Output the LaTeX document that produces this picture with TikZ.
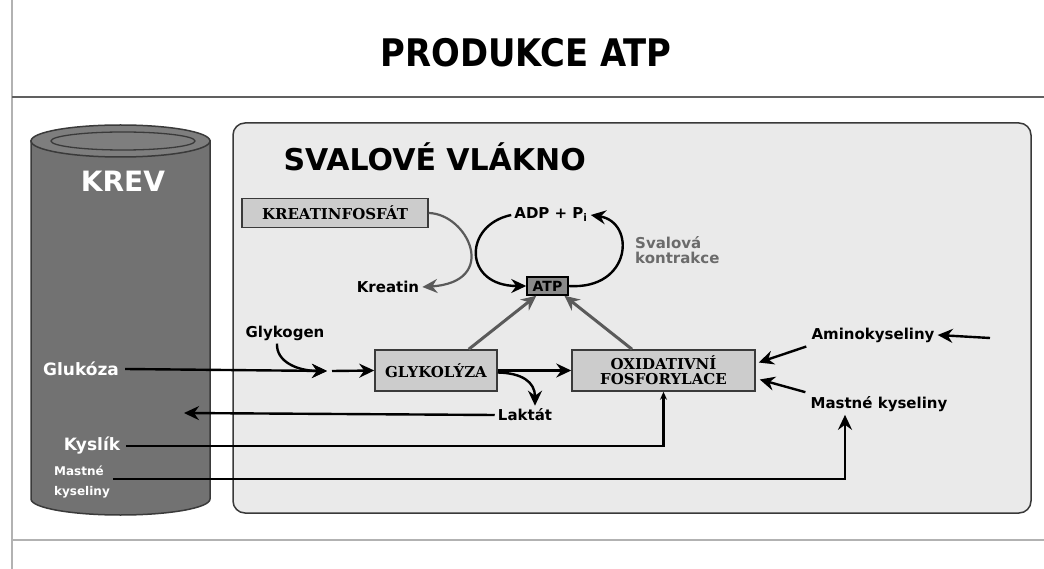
\documentclass[tikz,border=0pt]{standalone}
\usepackage{fontspec}
\usepackage{graphicx}
\setmainfont{DejaVu Sans}
\newfontfamily\slab{DejaVu Serif}
\usetikzlibrary{arrows.meta}
\definecolor{cylbody}{HTML}{727272}
\definecolor{cyltop}{HTML}{7E7E7E}
\definecolor{cylline}{HTML}{3A3A3A}
\definecolor{musclefill}{HTML}{EAEAEA}
\definecolor{boxfill}{HTML}{CCCCCC}
\definecolor{atpfill}{HTML}{8A8A8A}
\definecolor{arrgray}{HTML}{5A5A5A}
\definecolor{txtgray}{HTML}{6B6B6B}
\begin{document}
\begin{tikzpicture}[x=1pt,y=-1pt,
  lbl/.style={font=\fontsize{15}{18}\selectfont\bfseries, text=black, inner sep=3pt},
  wlbl/.style={font=\fontsize{17}{20}\selectfont\bfseries, text=white, inner sep=6pt},
  procbox/.style={draw=cylline, line width=1.5pt, fill=boxfill, font=\slab\bfseries\fontsize{15}{16}\selectfont, inner sep=0pt, align=center},
  arr/.style={line width=2.4pt, -{Stealth[length=15pt,width=14pt,inset=5pt]}},
  garr/.style={line width=3pt, draw=arrgray, -{Stealth[length=15pt,width=14pt,inset=5pt]}},
]
\useasboundingbox (0,0) rectangle (1044,569);
\fill[white] (0,0) rectangle (1044,569);
% page frame lines
\draw[gray!60, line width=1.2pt] (12,0) -- (12,569);
\draw[gray!75!black, line width=1.5pt] (12,97) -- (1044,97);
\draw[gray!60, line width=1.2pt] (12,540) -- (1044,540);
% title
\node[font=\fontsize{38}{40}\selectfont\bfseries] (title) at (526,53) {\scalebox{0.89}[1]{PRODUKCE ATP}};
% muscle fibre
\draw[fill=musclefill, draw=gray!45!black, line width=1.5pt, rounded corners=12pt] (233,123) rectangle (1031,513);
\node[anchor=west, font=\fontsize{30}{32}\selectfont\bfseries] (svtitle) at (280,157) {SVALOVÉ VLÁKNO};
% blood cylinder
\path[fill=cylbody, draw=cylline, line width=1.5pt] (31,141) -- (31,499) arc[start angle=180, end angle=0, x radius=89.5, y radius=16] -- (210,141) -- cycle;
\draw[fill=cyltop, draw=cylline, line width=1.5pt] (120.5,141) ellipse [x radius=89.5, y radius=16];
\draw[fill=cyltop, draw=cylline, line width=1.3pt] (123,141) ellipse [x radius=72, y radius=9];
\node[font=\fontsize{28}{30}\selectfont\bfseries, text=white] (krev) at (123,181) {KREV};
\node[wlbl] (glukoza) at (81,369) {Glukóza};
\node[wlbl] (kyslik) at (92,446) {Kyslík};
\node[font=\fontsize{12}{20}\selectfont\bfseries, text=white, align=left, inner sep=3pt] (mk) at (82,482) {Mastné\\kyseliny};
% boxes
\node[procbox, minimum width=186, minimum height=29] (kp) at (335,213) {KREATINFOSFÁT};
\node[procbox, minimum width=122, minimum height=41] (glyk) at (436,370.5) {GLYKOLÝZA};
\node[procbox, minimum width=183, minimum height=41] (oxid) at (663.5,370.5) {OXIDATIVNÍ\\[-1pt]FOSFORYLACE};
\node[draw=black, line width=1.5pt, fill=atpfill, minimum width=41, minimum height=18, inner sep=0pt, font=\fontsize{14}{16}\selectfont\bfseries] (atp) at (547.5,286) {ATP};
% labels
\node[lbl] (kreatin) at (388,287) {Kreatin};
\node[lbl] (adp) at (551,215) {ADP + P\textsubscript{i}};
\node[lbl, text=txtgray, align=left, anchor=west, font=\fontsize{15}{15}\selectfont\bfseries] (sval) at (632,250) {Svalová\\kontrakce};
\node[lbl] (glykogen) at (285,333) {Glykogen};
\node[lbl] (laktat) at (525,415) {Laktát};
\node[lbl] (amino) at (873,335) {Aminokyseliny};
\node[lbl] (mkr) at (879,404) {Mastné kyseliny};
% coordinates
\coordinate (merge) at (327,371);
\coordinate (lakend) at (184,413);
\coordinate (aminsrc) at (990,338);
% creatine phosphate curve
\draw[garr, line width=2.2pt] (kp.east) .. controls (468,214) and (500,282) .. (kreatin.east);
% ADP/ATP cycle
\draw[arr] (adp.west) .. controls (463,225) and (463,286) .. (atp.west);
\draw[arr] (atp.east) .. controls (632,290) and (636,222) .. (adp.east);
% to ATP
\draw[garr] (glyk.33) -- (atp.221);
\draw[garr] (oxid.146) -- (atp.330);
% glucose / glycogen
\draw[arr] (glukoza.east) -- (merge);
\draw[arr] ([xshift=5pt]merge) -- (glyk.west);
\draw[arr] ([xshift=-8pt]glykogen.south) .. controls (276,362) and (298,371) .. (merge);
\draw[arr] (glyk.east) -- (oxid.west);
\draw[arr] ([yshift=-2pt]glyk.east) .. controls (522,373) and (535,382) .. ([xshift=10pt]laktat.north);
\draw[arr] (laktat.west) -- (lakend);
% oxygen
\draw[line width=2.2pt, -{Stealth[length=8pt,width=7pt]}] (kyslik.east) -| (oxid.south);
% fatty acids
\draw[arr] ([yshift=3pt]mk.east) -| ([xshift=-34pt]mkr.south);
\draw[arr] (aminsrc) -- (amino.east);
\draw[arr] ([xshift=-2pt,yshift=-1pt]amino.south west) -- ([xshift=3pt,yshift=8pt]oxid.east);
\draw[arr] ([xshift=-2pt,yshift=1pt]mkr.north west) -- ([xshift=4pt,yshift=-9pt]oxid.east);
\end{tikzpicture}
\end{document}
